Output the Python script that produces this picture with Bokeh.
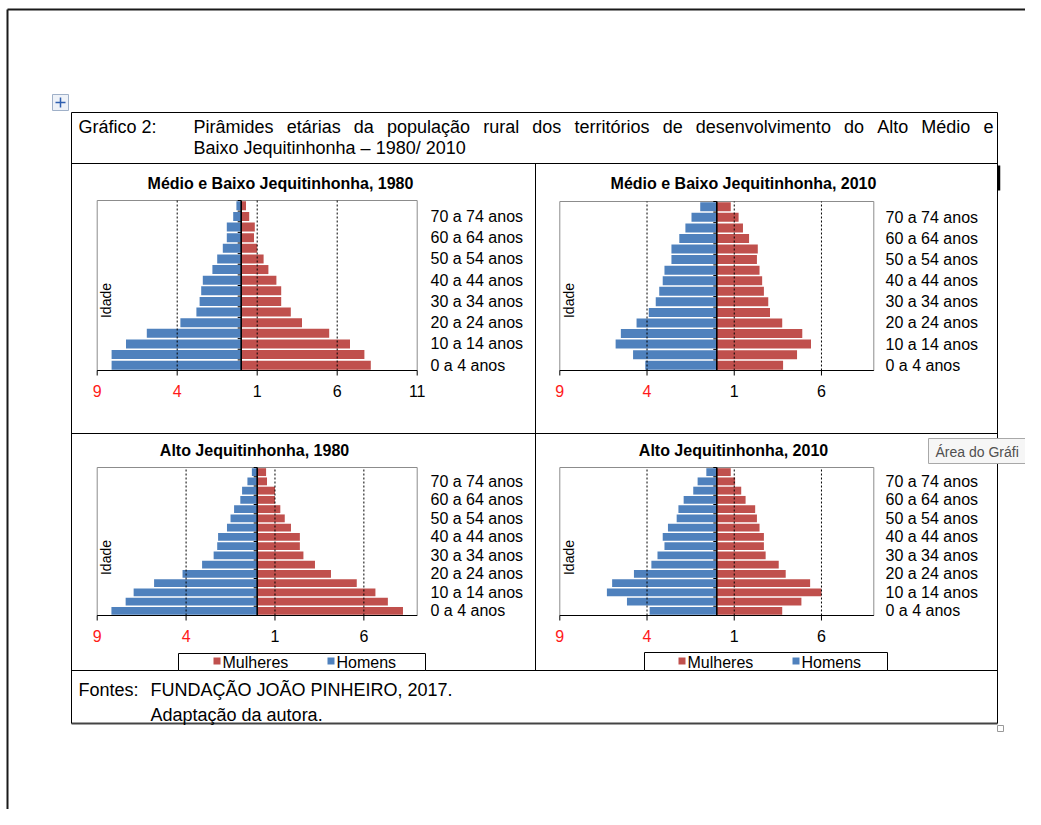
import math
from bokeh.plotting import figure
from bokeh.models import Range1d, ColumnDataSource
from bokeh.core.properties import value
from bokeh.embed import file_html
from bokeh.resources import INLINE

# ---------------- data ----------------
faixas = ["0 a 4 anos", "5 a 9 anos", "10 a 14 anos", "15 a 19 anos", "20 a 24 anos",
          "25 a 29 anos", "30 a 34 anos", "35 a 39 anos", "40 a 44 anos", "45 a 49 anos",
          "50 a 54 anos", "55 a 59 anos", "60 a 64 anos", "65 a 69 anos", "70 a 74 anos",
          "75 anos ou mais"]

mbj_1980_homens = [8.1, 8.1, 7.2, 5.9, 3.8, 2.8, 2.6, 2.5, 2.4, 1.8, 1.5, 1.15, 0.9, 0.9, 0.5, 0.3]
mbj_1980_mulheres = [8.1, 7.7, 6.8, 5.5, 3.8, 3.1, 2.5, 2.5, 2.2, 1.7, 1.4, 1.0, 0.8, 0.85, 0.5, 0.3]

mbj_2010_homens = [4.1, 4.8, 5.8, 5.5, 4.6, 3.9, 3.5, 3.3, 3.1, 3.0, 2.6, 2.6, 2.15, 1.8, 1.45, 0.95]
mbj_2010_mulheres = [3.8, 4.6, 5.4, 4.9, 3.75, 3.05, 2.95, 2.7, 2.6, 2.45, 2.3, 2.35, 1.85, 1.5, 1.25, 0.8]

alto_1980_homens = [8.2, 7.4, 6.95, 5.8, 4.2, 3.1, 2.45, 2.25, 2.2, 1.7, 1.5, 1.3, 0.95, 0.85, 0.55, 0.3]
alto_1980_mulheres = [8.2, 7.35, 6.65, 5.6, 4.15, 3.25, 2.6, 2.4, 2.4, 1.9, 1.55, 1.3, 1.0, 1.0, 0.55, 0.5]

alto_2010_homens = [3.85, 5.15, 6.3, 6.0, 4.75, 3.75, 3.4, 3.0, 3.1, 2.8, 2.3, 2.2, 1.9, 1.35, 1.1, 0.6]
alto_2010_mulheres = [3.75, 4.85, 6.0, 5.35, 3.95, 3.55, 2.8, 2.7, 2.7, 2.45, 2.3, 2.2, 1.65, 1.4, 1.05, 0.8]

ticks_mbj_1980 = [-9, -4, 1, 6, 11]
ticks_demais = [-9, -4, 1, 6]

titulos = ["Médio e Baixo Jequitinhonha, 1980", "Médio e Baixo Jequitinhonha, 2010",
           "Alto Jequitinhonha, 1980", "Alto Jequitinhonha, 2010"]
serie_nomes = ["Mulheres", "Homens"]

titulo_rotulo = "Gráfico 2:"
titulo_linha1 = "Pirâmides etárias da população rural dos territórios de desenvolvimento do Alto Médio e"
titulo_linha2 = "Baixo Jequitinhonha – 1980/ 2010"
fonte_rotulo = "Fontes:"
fonte_linha1 = "FUNDAÇÃO JOÃO PINHEIRO, 2017."
fonte_linha2 = "Adaptação da autora."
dica = "Área do Gráfi"

# ---------------- styles ----------------
AZUL = "#4F81BD"
VERMELHO = "#C0504D"
FONT = value("Liberation Sans")
PX0, PX1, PY0, PY1 = 0, 1025, 0, 809

# Arial / Liberation Sans advance widths (1/1000 em), used to justify the first title line
_W = dict(zip("abcdefghijklmnopqrstuvwxyz",
              [556, 556, 500, 556, 556, 278, 556, 556, 222, 222, 500, 222, 833, 556, 556, 556,
               556, 333, 500, 278, 556, 500, 722, 500, 500, 500]))
_W.update(dict(zip("ABCDEFGHIJKLMNOPQRSTUVWXYZ",
                   [667, 667, 722, 722, 667, 611, 778, 722, 278, 500, 667, 556, 833, 722, 778,
                    667, 778, 722, 667, 611, 722, 667, 944, 667, 667, 611])))
_BASE = {"á": "a", "â": "a", "ã": "a", "à": "a", "é": "e", "ê": "e", "í": "i", "ó": "o",
         "ô": "o", "õ": "o", "ú": "u", "ç": "c", "É": "E", "Á": "A"}


def text_width(s, size):
    return sum(_W.get(_BASE.get(ch, ch), 556) for ch in s) * size / 1000.0


p = figure(width=1025, height=809, x_range=Range1d(PX0, PX1), y_range=Range1d(PY1, PY0),
           output_backend="svg", toolbar_location=None, x_axis_location=None,
           y_axis_location=None, min_border=0)
p.outline_line_color = None
p.background_fill_color = "white"
p.border_fill_color = "white"
p.xgrid.grid_line_color = None
p.ygrid.grid_line_color = None
p.grid.visible = False


def seg(x0, y0, x1, y1, color="black", width=1, **kw):
    p.segment(x0=[x0], y0=[y0], x1=[x1], y1=[y1], line_color=color, line_width=width, **kw)


def txt(x, y, s, size="15px", style="normal", align="left", color="black", angle=0, **kw):
    p.text(x=[x], y=[y], text=[s], text_font=FONT, text_font_size=value(size),
           text_font_style=style, text_align=align, text_baseline="middle",
           text_color=color, angle=angle, **kw)


# outer page frame
seg(7, 9, PX1, 9, color="#1a1a1a", width=2)
seg(7, 9, 7, PY1, color="#1a1a1a", width=2)

# move icon
p.quad(left=[52], right=[68], top=[94], bottom=[110], fill_color="#eef2f8", line_color="#9fb0c8")
seg(55, 102, 65, 102, color="#2f5fb0", width=1.5)
seg(60, 97, 60, 107, color="#2f5fb0", width=1.5)

# table borders
seg(71, 112, 997, 112)
seg(71, 163, 997, 163)
seg(71, 433, 997, 433)
seg(71, 670, 997, 670)
seg(71, 723, 997, 723, color="#444444", width=2)
seg(71, 112, 71, 723)
seg(997, 112, 997, 723)
seg(535, 163, 535, 670)
seg(998.5, 165, 998.5, 190, width=2.5)
p.quad(left=[997], right=[1003], top=[725], bottom=[731], fill_color=None, line_color="#999999")

# header (first line justified between x=193 and x=993)
HS = 18
txt(78, 126, titulo_rotulo, size="%dpx" % HS)
palavras = titulo_linha1.split(" ")
larg = [text_width(w, HS) for w in palavras]
gap = (993 - 193 - sum(larg)) / (len(palavras) - 1)
xw = 193.0
for w, lw in zip(palavras, larg):
    txt(xw, 126, w, size="%dpx" % HS)
    xw += lw + gap
txt(193, 147, titulo_linha2, size="%dpx" % HS)

# footer
txt(78, 689, fonte_rotulo, size="18px")
txt(150, 689, fonte_linha1, size="18px")
txt(150, 714, fonte_linha2, size="18px")

# tooltip
p.quad(left=[928], right=[1030], top=[438], bottom=[463], fill_color="#f6f6f6", line_color="#a8a8a8")
txt(935, 451, dica, size="14px", color="#505050")

pos = list(range(1, len(faixas) + 1))

paineis = [
    dict(k="a", h=mbj_1980_homens, m=mbj_1980_mulheres, ticks=ticks_mbj_1980, lo=-9, hi=11,
         box=(96.7, 416.7, 200, 370), title=(280, 183), idade=(105, 300), lab=430, tly=390, leg=None),
    dict(k="b", h=mbj_2010_homens, m=mbj_2010_mulheres, ticks=ticks_demais, lo=-9, hi=9,
         box=(559.3, 873.3, 201, 370), title=(743, 183), idade=(568, 300), lab=885, tly=390, leg=None),
    dict(k="c", h=alto_1980_homens, m=alto_1980_mulheres, ticks=ticks_demais, lo=-9, hi=9,
         box=(96.7, 416.7, 467, 615), title=(254, 450), idade=(105, 557), lab=430, tly=635,
         leg=(178, 425, 653, 213, 327)),
    dict(k="d", h=alto_2010_homens, m=alto_2010_mulheres, ticks=ticks_demais, lo=-9, hi=9,
         box=(559.3, 873.3, 467, 615), title=(733, 450), idade=(568, 557), lab=885, tly=635,
         leg=(644, 887, 652, 678, 792)),
]

n = len(faixas)
for i, cfg in enumerate(paineis):
    k = cfg["k"]
    X0, X1, Yt, Yb = cfg["box"]
    lo, hi = cfg["lo"], cfg["hi"]
    u = (hi - lo) / (X1 - X0)
    v = n / (Yb - Yt)
    xr, yr = k + "x", k + "y"
    p.extra_x_ranges[xr] = Range1d(lo - (X0 - PX0) * u, hi + (PX1 - X1) * u)
    p.extra_y_ranges[yr] = Range1d(0.5 - (PY1 - Yb) * v, n + 0.5 + (Yt - PY0) * v)
    kw = dict(x_range_name=xr, y_range_name=yr)

    # plot area border
    p.quad(left=[lo], right=[hi], bottom=[0.5], top=[n + 0.5], fill_color=None,
           line_color="#8c8c8c", line_width=1, **kw)

    src = ColumnDataSource(dict(y=pos, homens=[-x for x in cfg["h"]], mulheres=cfg["m"]))
    p.hbar(y="y", left="homens", right=0, height=0.85, source=src, fill_color=AZUL,
           line_color=None, **kw)
    p.hbar(y="y", left=0, right="mulheres", height=0.85, source=src, fill_color=VERMELHO,
           line_color=None, **kw)

    # dashed gridlines
    gt = [t for t in cfg["ticks"] if lo < t < hi]
    p.segment(x0=gt, x1=gt, y0=[0.5] * len(gt), y1=[n + 0.5] * len(gt), line_color="black",
              line_width=1, line_dash="2 2", **kw)

    # center axis
    p.segment(x0=[0], x1=[0], y0=[0.5], y1=[n + 0.5], line_color="black", line_width=1.6, **kw)
    bnd = [j + 0.5 for j in range(n + 1)]
    p.segment(x0=[-3.5 * u] * len(bnd), x1=[0] * len(bnd), y0=bnd, y1=bnd,
              line_color="black", line_width=1, **kw)

    # x axis
    p.segment(x0=[lo], x1=[hi], y0=[0.5], y1=[0.5], line_color="black", line_width=1.2, **kw)
    p.segment(x0=cfg["ticks"], x1=cfg["ticks"], y0=[Yb] * len(cfg["ticks"]),
              y1=[Yb + 5] * len(cfg["ticks"]), line_color="black", line_width=1,
              x_range_name=xr)
    tsrc = ColumnDataSource(dict(x=cfg["ticks"], y=[cfg["tly"]] * len(cfg["ticks"]),
                                 t=[str(abs(t)) for t in cfg["ticks"]],
                                 c=["#ff1a1a" if t < 0 else "black" for t in cfg["ticks"]]))
    p.text(x="x", y="y", text="t", text_color="c", source=tsrc, text_font=FONT,
           text_font_size=value("16px"), text_align="center", text_baseline="middle",
           x_range_name=xr)

    # category labels
    p.text(x=[cfg["lab"]] * len(pos[0::2]), y=pos[0::2], text=faixas[0::2], text_font=FONT,
           text_font_size=value("16px"), text_align="left", text_baseline="middle",
           y_range_name=yr)

    # title and axis title
    txt(cfg["title"][0], cfg["title"][1], titulos[i], size="16px", style="bold", align="center")
    txt(cfg["idade"][0], cfg["idade"][1], "Idade", size="14px", align="center", angle=math.pi / 2)

    # legend
    if cfg["leg"]:
        L, R, T, sqm, sqh = cfg["leg"]
        p.quad(left=[L], right=[R], top=[T], bottom=[670], fill_color="white", line_color="black")
        p.quad(left=[sqm, sqh], right=[sqm + 7, sqh + 7], top=[657, 657], bottom=[664, 664],
               fill_color=[VERMELHO, AZUL], line_color=None)
        txt(sqm + 9, 662, serie_nomes[0], size="16px")
        txt(sqh + 9, 662, serie_nomes[1], size="16px")

open("out.html", "w").write(file_html(p, INLINE))
